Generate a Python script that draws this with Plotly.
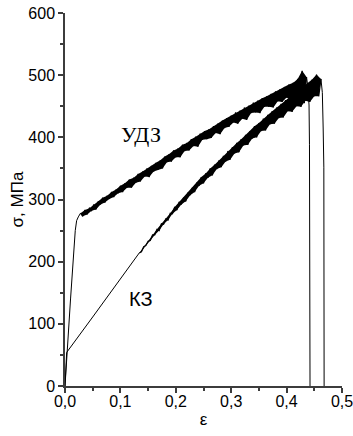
import numpy as np
import plotly.graph_objects as go

# Stress-strain curves (strain ε, stress σ in MPa) for two material states.
SAMPLE_STEP = 0.004  # strain spacing of the serrated-flow readings

# УДЗ: elastic loading up to the yield plateau
udz_elastic_strain = [0.0, 0.003, 0.010, 0.0185, 0.021, 0.024, 0.026, 0.028]
udz_elastic_stress = [0, 45, 140, 250, 266, 272, 276, 278]

# УДЗ: serrated plastic flow, sampled from ε = 0.028 (alternating peaks and drops)
udz_band_start = 0.028
udz_band_stress = [
    278, 273, 283, 276, 286, 282, 292, 284, 297, 292,
    303, 295, 306, 301, 312, 304, 316, 310, 322, 312,
    326, 319, 332, 319, 335, 327, 341, 329, 345, 337,
    350, 336, 354, 345, 359, 348, 363, 350, 369, 360,
    373, 361, 379, 368, 382, 368, 388, 378, 391, 379,
    397, 386, 401, 385, 406, 396, 410, 397, 413, 399,
    418, 407, 422, 405, 427, 415, 431, 417, 435, 424,
    440, 422, 443, 430, 448, 428, 451, 439, 456, 440,
    459, 439, 463, 449, 466, 449, 470, 448, 474, 458,
    477, 457, 481, 464, 485, 460, 488, 469, 494, 471,
    507, 455, 497,
]

# УДЗ: fracture
udz_fracture_strain = [0.436, 0.438, 0.4405, 0.4413, 0.4423]
udz_fracture_stress = [497, 484, 452, 388, 0]

# КЗ: initial loading, nearly smooth
kz_initial_strain = [0.0, 0.0015, 0.003, 0.05, 0.10, 0.13, 0.134]
kz_initial_stress = [0, 28, 54, 111, 172, 208, 214]

# КЗ: serrated plastic flow, sampled from ε = 0.134 (alternating peaks and drops)
kz_band_start = 0.134
kz_band_stress = [
    214, 216, 224, 226, 233, 234, 243, 243, 252, 250,
    261, 260, 269, 267, 278, 277, 288, 283, 296, 292,
    303, 297, 311, 307, 319, 312, 327, 322, 336, 326,
    342, 335, 350, 339, 356, 349, 363, 352, 370, 361,
    378, 364, 384, 374, 391, 376, 397, 387, 404, 388,
    410, 398, 418, 400, 423, 410, 430, 411, 436, 421,
    442, 422, 448, 431, 454, 432, 460, 442, 465, 441,
    471, 450, 476, 449, 482, 459, 487, 457, 493, 466,
    501, 466, 494,
]

# КЗ: fracture
kz_fracture_strain = [0.462, 0.4645, 0.466, 0.4672, 0.4677]
kz_fracture_stress = [494, 472, 415, 352, 0]

# Axis ticks
x_ticks = [0.0, 0.1, 0.2, 0.3, 0.4, 0.5]
y_ticks = [0, 100, 200, 300, 400, 500, 600]

# Curve labels: (text, ε, σ, font family, size)
curve_labels = [
    ("УДЗ", 0.137, 404, "Liberation Serif, Times New Roman, serif", 22),
    ("КЗ", 0.138, 140, "Liberation Sans, Arial, sans-serif", 20),
]


def band_strain(start, n):
    return np.round(start + SAMPLE_STEP * np.arange(n), 4)


AXIS_COLOR = "#3c3c3c"
fig = go.Figure()


def add_line(xs, ys, width):
    fig.add_trace(go.Scatter(x=xs, y=ys, mode="lines",
                             line=dict(color="black", width=width),
                             showlegend=False, hoverinfo="skip"))


def add_serrated_band(start, stress):
    xs = band_strain(start, len(stress))
    ys = np.asarray(stress)
    # solid body between the peak envelope and the drop envelope
    peaks_x, peaks_y = xs[0::2], ys[0::2]
    drops_x, drops_y = xs[1::2], ys[1::2]
    fig.add_trace(go.Scatter(
        x=np.concatenate([peaks_x, drops_x[::-1]]),
        y=np.concatenate([peaks_y, drops_y[::-1]]),
        mode="lines", fill="toself", fillcolor="black",
        line=dict(width=0, color="black"),
        showlegend=False, hoverinfo="skip"))
    # individual serrations on top
    add_line(xs, ys, 1.2)


for start, stress, before, after in [
    (kz_band_start, kz_band_stress,
     (kz_initial_strain, kz_initial_stress), (kz_fracture_strain, kz_fracture_stress)),
    (udz_band_start, udz_band_stress,
     (udz_elastic_strain, udz_elastic_stress), (udz_fracture_strain, udz_fracture_stress)),
]:
    add_line(*before, 1.0)
    add_serrated_band(start, stress)
    add_line(*after, 1.0)

for text, ex, sy, family, size in curve_labels:
    fig.add_annotation(x=ex, y=sy, text=text, showarrow=False,
                       font=dict(family=family, size=size, color="black"))

axis_common = dict(
    showline=True, linecolor=AXIS_COLOR, linewidth=1.5,
    ticks="outside", ticklen=5, tickwidth=1.5, tickcolor=AXIS_COLOR,
    showgrid=False, zeroline=False, mirror=False, automargin=False,
    ticklabeloverflow="allow",
    tickfont=dict(size=16, color="black"),
)

fig.update_xaxes(range=[0, 0.5], tickvals=x_ticks, tickformat=".1f",
                 ticklabelstandoff=-5,
                 minor=dict(dtick=0.05, tick0=0, ticks="outside", ticklen=3,
                            tickwidth=1.5, tickcolor=AXIS_COLOR, showgrid=False),
                 title=dict(text="ε", font=dict(size=17), standoff=4),
                 **axis_common)
fig.update_yaxes(range=[0, 600], tickvals=y_ticks,
                 minor=dict(dtick=50, tick0=0, ticks="outside", ticklen=3,
                            tickwidth=1.5, tickcolor=AXIS_COLOR, showgrid=False),
                 title=dict(text="σ, МПа", font=dict(size=17), standoff=0),
                 **axis_common)

fig.update_layout(
    width=353, height=436,
    margin=dict(l=65, r=11, t=13, b=50),
    paper_bgcolor="white", plot_bgcolor="white",
    separators=", ",
    font=dict(family="Liberation Sans, Arial, sans-serif", size=16, color="black"),
)

fig.write_html("out.html")
